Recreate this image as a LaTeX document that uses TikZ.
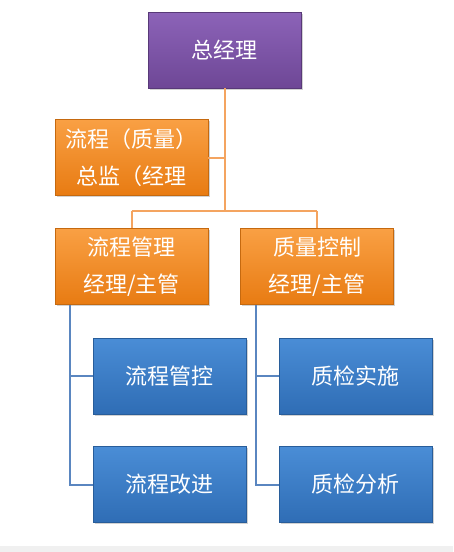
\documentclass[tikz,border=0pt]{standalone}
\usepackage{fontspec}
\newfontfamily\cjk{Noto Sans CJK SC}
\usetikzlibrary{shadows}
\definecolor{purpTop}{HTML}{8C63B8}
\definecolor{purpBot}{HTML}{6E4796}
\definecolor{oraTop}{HTML}{F9A044}
\definecolor{oraBot}{HTML}{E87B12}
\definecolor{bluTop}{HTML}{4A8DD6}
\definecolor{bluBot}{HTML}{2F6DB5}
\definecolor{oLine}{HTML}{F4A460}
\definecolor{bLine}{HTML}{5A86C0}
\begin{document}
\begin{tikzpicture}[x=1pt,y=-1pt,
  box/.style={minimum width=153pt,minimum height=76pt,inner sep=0pt,align=center,
    text=white,font=\cjk\fontsize{22}{37}\selectfont,
    drop shadow={shadow xshift=1.5pt,shadow yshift=-1.5pt,opacity=0.35}},
  pbox/.style={box,top color=purpTop,bottom color=purpBot,draw=purpBot!80!black},
  obox/.style={box,top color=oraTop,bottom color=oraBot,draw=oraBot!85!black},
  bbox/.style={box,top color=bluTop,bottom color=bluBot,draw=bluBot!85!black},
  oline/.style={draw=oLine,line width=2pt},
  bline/.style={draw=bLine,line width=2pt}]
\useasboundingbox (0,0) rectangle (453,552);
\fill[white] (0,0) rectangle (453,552);
\fill[gray!12] (0,546) rectangle (453,552);

\coordinate (jd) at (224.5,157.5);
\coordinate (jm) at (224.5,211);
\coordinate (jl) at (131.5,211);
\coordinate (jr) at (317,211);
\coordinate (lx) at (70,305);
\coordinate (l1) at (70,376);
\coordinate (l2) at (70,484.5);
\coordinate (rx) at (256,305);
\coordinate (r1) at (256,376);
\coordinate (r2) at (256,484.5);

\node[pbox] (gm) at (224.5,50) {总经理};
\node[obox] (dir) at (131.5,157.5) {流程（质量）\\总监（经理};
\node[obox] (pm) at (131.5,266.5) {流程管理\\经理/主管};
\node[obox] (qm) at (317,266.5) {质量控制\\经理/主管};
\node[bbox] (p1) at (169.5,376) {流程管控};
\node[bbox] (p2) at (169.5,484.5) {流程改进};
\node[bbox] (q1) at (355.5,376) {质检实施};
\node[bbox] (q2) at (355.5,484.5) {质检分析};

\draw[oline] (gm.south) -- (jm);
\draw[oline] (jd) -- (dir.east);
\draw[oline] (jl) -- (jr);
\draw[oline] (jl) -- (pm.north);
\draw[oline] (jr) -- (qm.north);
\draw[bline] (lx) -- (l2) -- (p2.west);
\draw[bline] (l1) -- (p1.west);
\draw[bline] (rx) -- (r2) -- (q2.west);
\draw[bline] (r1) -- (q1.west);
\end{tikzpicture}
\end{document}
